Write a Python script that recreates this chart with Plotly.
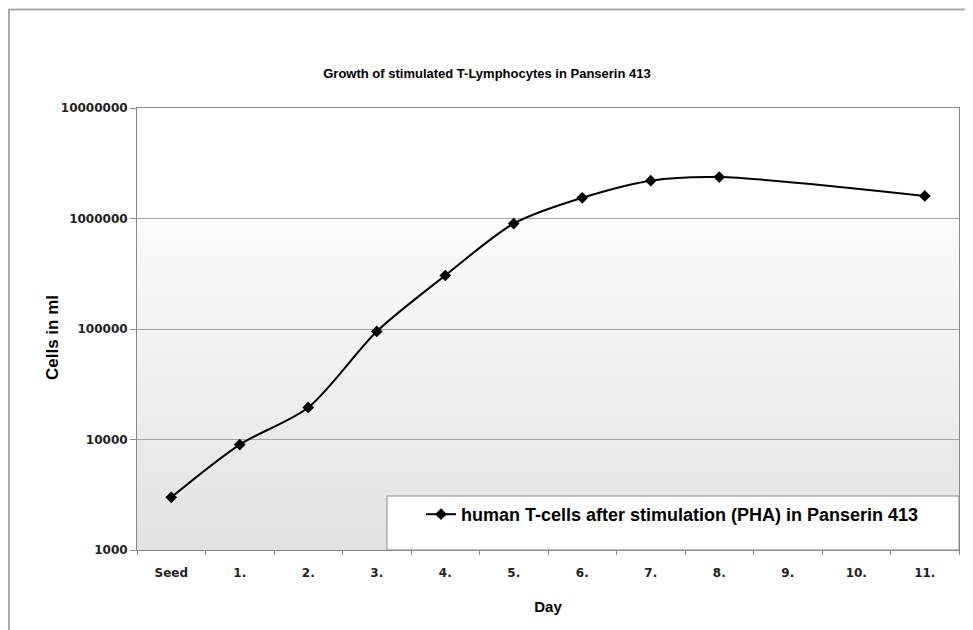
import plotly.graph_objects as go

days = ["Seed", "1.", "2.", "3.", "4.", "5.", "6.", "7.", "8.", "9.", "10.", "11."]
cells = [3000, 9000, 19500, 95000, 305000, 900000, 1540000, 2200000, 2370000, None, None, 1600000]
y_tick_vals = [1000, 10000, 100000, 1000000, 10000000]
y_tick_text = ["1000", "10000", "100000", "1000000", "10000000"]
series_name = "human T-cells after stimulation (PHA) in Panserin 413"

SANS = "Liberation Sans, Arial, sans-serif"
WIDE = "DejaVu Sans, Verdana, sans-serif"

# page body has an 8px margin; plot area in page coords: x 137..959, y 108..550
OFF = 8
W, H = 973 - OFF, 630 - OFF
L, T = 137 - OFF, 108 - OFF
PW, PH = 822, 442

fig = go.Figure()
fig.add_trace(go.Scatter(
    x=days, y=cells, name=f"<b>{series_name}</b>", mode="lines+markers",
    line=dict(color="black", width=2, shape="spline", smoothing=0.8),
    marker=dict(symbol="diamond", size=9, color="black"),
    connectgaps=True, showlegend=True,
))

shapes = []
n = 60
top = 0.75
c0, c1 = 226, 252
for i in range(n):
    y0 = top * i / n
    y1 = top * (i + 1) / n + 0.002
    c = round(c0 + (c1 - c0) * i / (n - 1))
    shapes.append(dict(type="rect", xref="x domain", yref="y domain", x0=0, x1=1,
                       y0=y0, y1=min(y1, top), fillcolor=f"rgb({c},{c},{c})",
                       line=dict(width=0), layer="below"))
# outer chart frame (left at x=9, top near y=9 in page coords)
shapes.append(dict(type="rect", xref="paper", yref="paper",
                   x0=(9 - 137) / PW, x1=1.05,
                   y0=-0.25, y1=(550 - 9.5) / PH, line=dict(color="#ababab", width=2),
                   fillcolor="rgba(0,0,0,0)", layer="above"))
# legend box
shapes.append(dict(type="rect", xref="paper", yref="paper", x0=(387 - 137) / PW, x1=1,
                   y0=0, y1=(550 - 496) / PH, line=dict(color="#8a8a8a", width=1),
                   fillcolor="white", layer="above"))

fig.update_layout(
    width=W, height=H,
    margin=dict(l=L, r=W - L - PW, t=T, b=H - T - PH),
    paper_bgcolor="white", plot_bgcolor="white",
    shapes=shapes,
    title=dict(text="<b>Growth of stimulated T-Lymphocytes in Panserin 413</b>",
               x=(487 - 137) / PW, xref="paper", xanchor="center",
               y=1 - (73 - OFF) / H, yanchor="middle",
               font=dict(family=SANS, size=13, color="black")),
    showlegend=True,
    legend=dict(x=(421 - 137) / PW, y=(550 - 496) / PH, xanchor="left", yanchor="top",
                bgcolor="rgba(0,0,0,0)", borderwidth=0,
                font=dict(family=SANS, size=18, color="black"),
                itemwidth=30),
    annotations=[dict(text="<b>Cells in ml</b>", xref="paper", yref="paper",
                      x=(52 - 137) / PW, y=(550 - 338) / PH, xanchor="center", yanchor="middle",
                      textangle=-90, showarrow=False,
                      font=dict(family=SANS, size=17, color="black"))],
    xaxis=dict(
        type="category", range=[-0.5, 11.5], tickson="boundaries",
        ticks="outside", ticklen=4, tickcolor="#888", showline=True, linecolor="#888",
        linewidth=1, mirror=True, showgrid=False, ticklabelstandoff=12,
        tickfont=dict(family=WIDE, size=12, color="#222", weight="bold"),
        title=dict(text="<b>Day</b>", font=dict(family=SANS, size=15, color="black"), standoff=22),
    ),
    yaxis=dict(
        type="log", range=[3, 7], tickvals=y_tick_vals, ticktext=y_tick_text,
        ticks="outside", ticklen=6, tickcolor="#888", showline=True, linecolor="#888",
        linewidth=1, mirror=True, showgrid=True, gridcolor="#a5a5a5", gridwidth=1,
        tickfont=dict(family=WIDE, size=12, color="#222", weight="bold"),
    ),
)

fig.write_html("out.html")
